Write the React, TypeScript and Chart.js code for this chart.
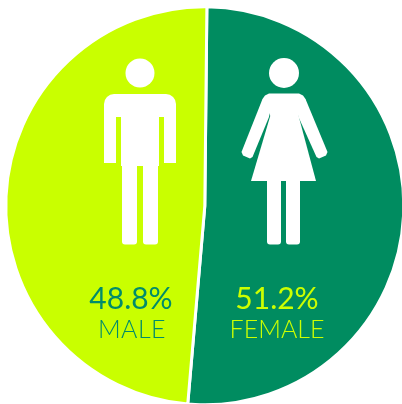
import React, { useEffect, useRef } from "react";
import { Chart, registerables } from "chart.js";

Chart.register(...registerables);

const categories = ["FEMALE", "MALE"];
const shares = [51.2, 48.8];
const sliceColors = ["#008C60", "#C9FF00"];
const shareLabels = ["51.2%", "48.8%"];

const FONT = "Lato, 'Open Sans', sans-serif";

function poly(ctx: CanvasRenderingContext2D, pts: number[][]) {
  ctx.beginPath();
  pts.forEach((p, i) => (i ? ctx.lineTo(p[0], p[1]) : ctx.moveTo(p[0], p[1])));
  ctx.closePath();
  ctx.fill();
}

function rrect(ctx: CanvasRenderingContext2D, x: number, y: number, w: number, h: number, r: number[]) {
  ctx.beginPath();
  ctx.roundRect(x, y, w, h, r);
  ctx.fill();
}

function head(ctx: CanvasRenderingContext2D, x: number, y: number, r: number) {
  ctx.beginPath();
  ctx.arc(x, y, r, 0, Math.PI * 2);
  ctx.fill();
}

function drawMan(ctx: CanvasRenderingContext2D) {
  head(ctx, 140, 73, 14.5);
  rrect(ctx, 104, 94, 72, 23, [10, 10, 0, 0]);
  ctx.fillRect(104, 110, 12, 53);
  ctx.fillRect(164, 110, 12, 53);
  ctx.fillRect(121, 110, 38, 56);
  rrect(ctx, 122, 160, 15, 84.5, [0, 0, 3, 3]);
  rrect(ctx, 143, 160, 15, 84.5, [0, 0, 3, 3]);
}

function drawWoman(ctx: CanvasRenderingContext2D) {
  head(ctx, 284, 73, 15);
  poly(ctx, [[269, 93.5], [299, 93.5], [303, 95.5], [305.5, 99], [298, 117], [271, 117], [262.5, 99], [265, 95.5]]);
  poly(ctx, [[272, 110], [297, 110], [316, 181], [251, 181]]);
  // arms
  poly(ctx, [[262.5, 99], [272, 100], [269, 117], [252.5, 157], [250, 158.5], [243, 155.5], [241.5, 152]]);
  poly(ctx, [[305.5, 99], [296, 100], [298.5, 117], [316.5, 157], [319, 158.5], [326, 155.5], [327.5, 152]]);
  rrect(ctx, 267, 178, 14, 66.5, [0, 0, 3, 3]);
  rrect(ctx, 286, 178, 14, 66.5, [0, 0, 3, 3]);
}

const overlay = {
  id: "overlay",
  afterDraw(chart: Chart) {
    const ctx = chart.ctx;
    ctx.save();
    ctx.fillStyle = "#FFFFFF";
    drawMan(ctx);
    drawWoman(ctx);
    ctx.textAlign = "center";
    ctx.textBaseline = "alphabetic";
    const anyCtx = ctx as any;
    ctx.fillStyle = "#008C6A";
    ctx.font = `400 30px ${FONT}`;
    ctx.fillText(shareLabels[1], 131, 308.5);
    ctx.font = `300 25px ${FONT}`;
    anyCtx.letterSpacing = "0.5px";
    ctx.fillText(categories[1], 132, 338);
    anyCtx.letterSpacing = "0px";
    ctx.fillStyle = "#CCFF00";
    ctx.font = `400 30px ${FONT}`;
    ctx.fillText(shareLabels[0], 277, 308.5);
    ctx.font = `300 25px ${FONT}`;
    ctx.fillText(categories[0], 277, 338);
    ctx.restore();
  },
};

export default function App() {
  const ref = useRef<HTMLCanvasElement>(null);
  useEffect(() => {
    document.body.style.margin = "0";
    document.body.style.background = "#FFFFFF";
    const chart = new Chart(ref.current!, {
      type: "pie",
      data: {
        labels: categories,
        datasets: [
          {
            data: shares,
            backgroundColor: sliceColors,
            borderColor: "#FFFFFF",
            borderWidth: 3,
          },
        ],
      },
      options: {
        responsive: false,
        animation: false,
        rotation: 0.6,
        layout: { padding: { left: 4.3, right: 0.7, top: 5.3, bottom: 0.7 } },
        plugins: { legend: { display: false }, tooltip: { enabled: false }, title: { display: false } },
      },
      plugins: [overlay],
    });
    return () => chart.destroy();
  }, []);
  return (
    <div style={{ position: "relative", width: 402, height: 404, overflow: "hidden" }}>
      <canvas ref={ref} width={406} height={407} style={{ display: "block" }} />
    </div>
  );
}
